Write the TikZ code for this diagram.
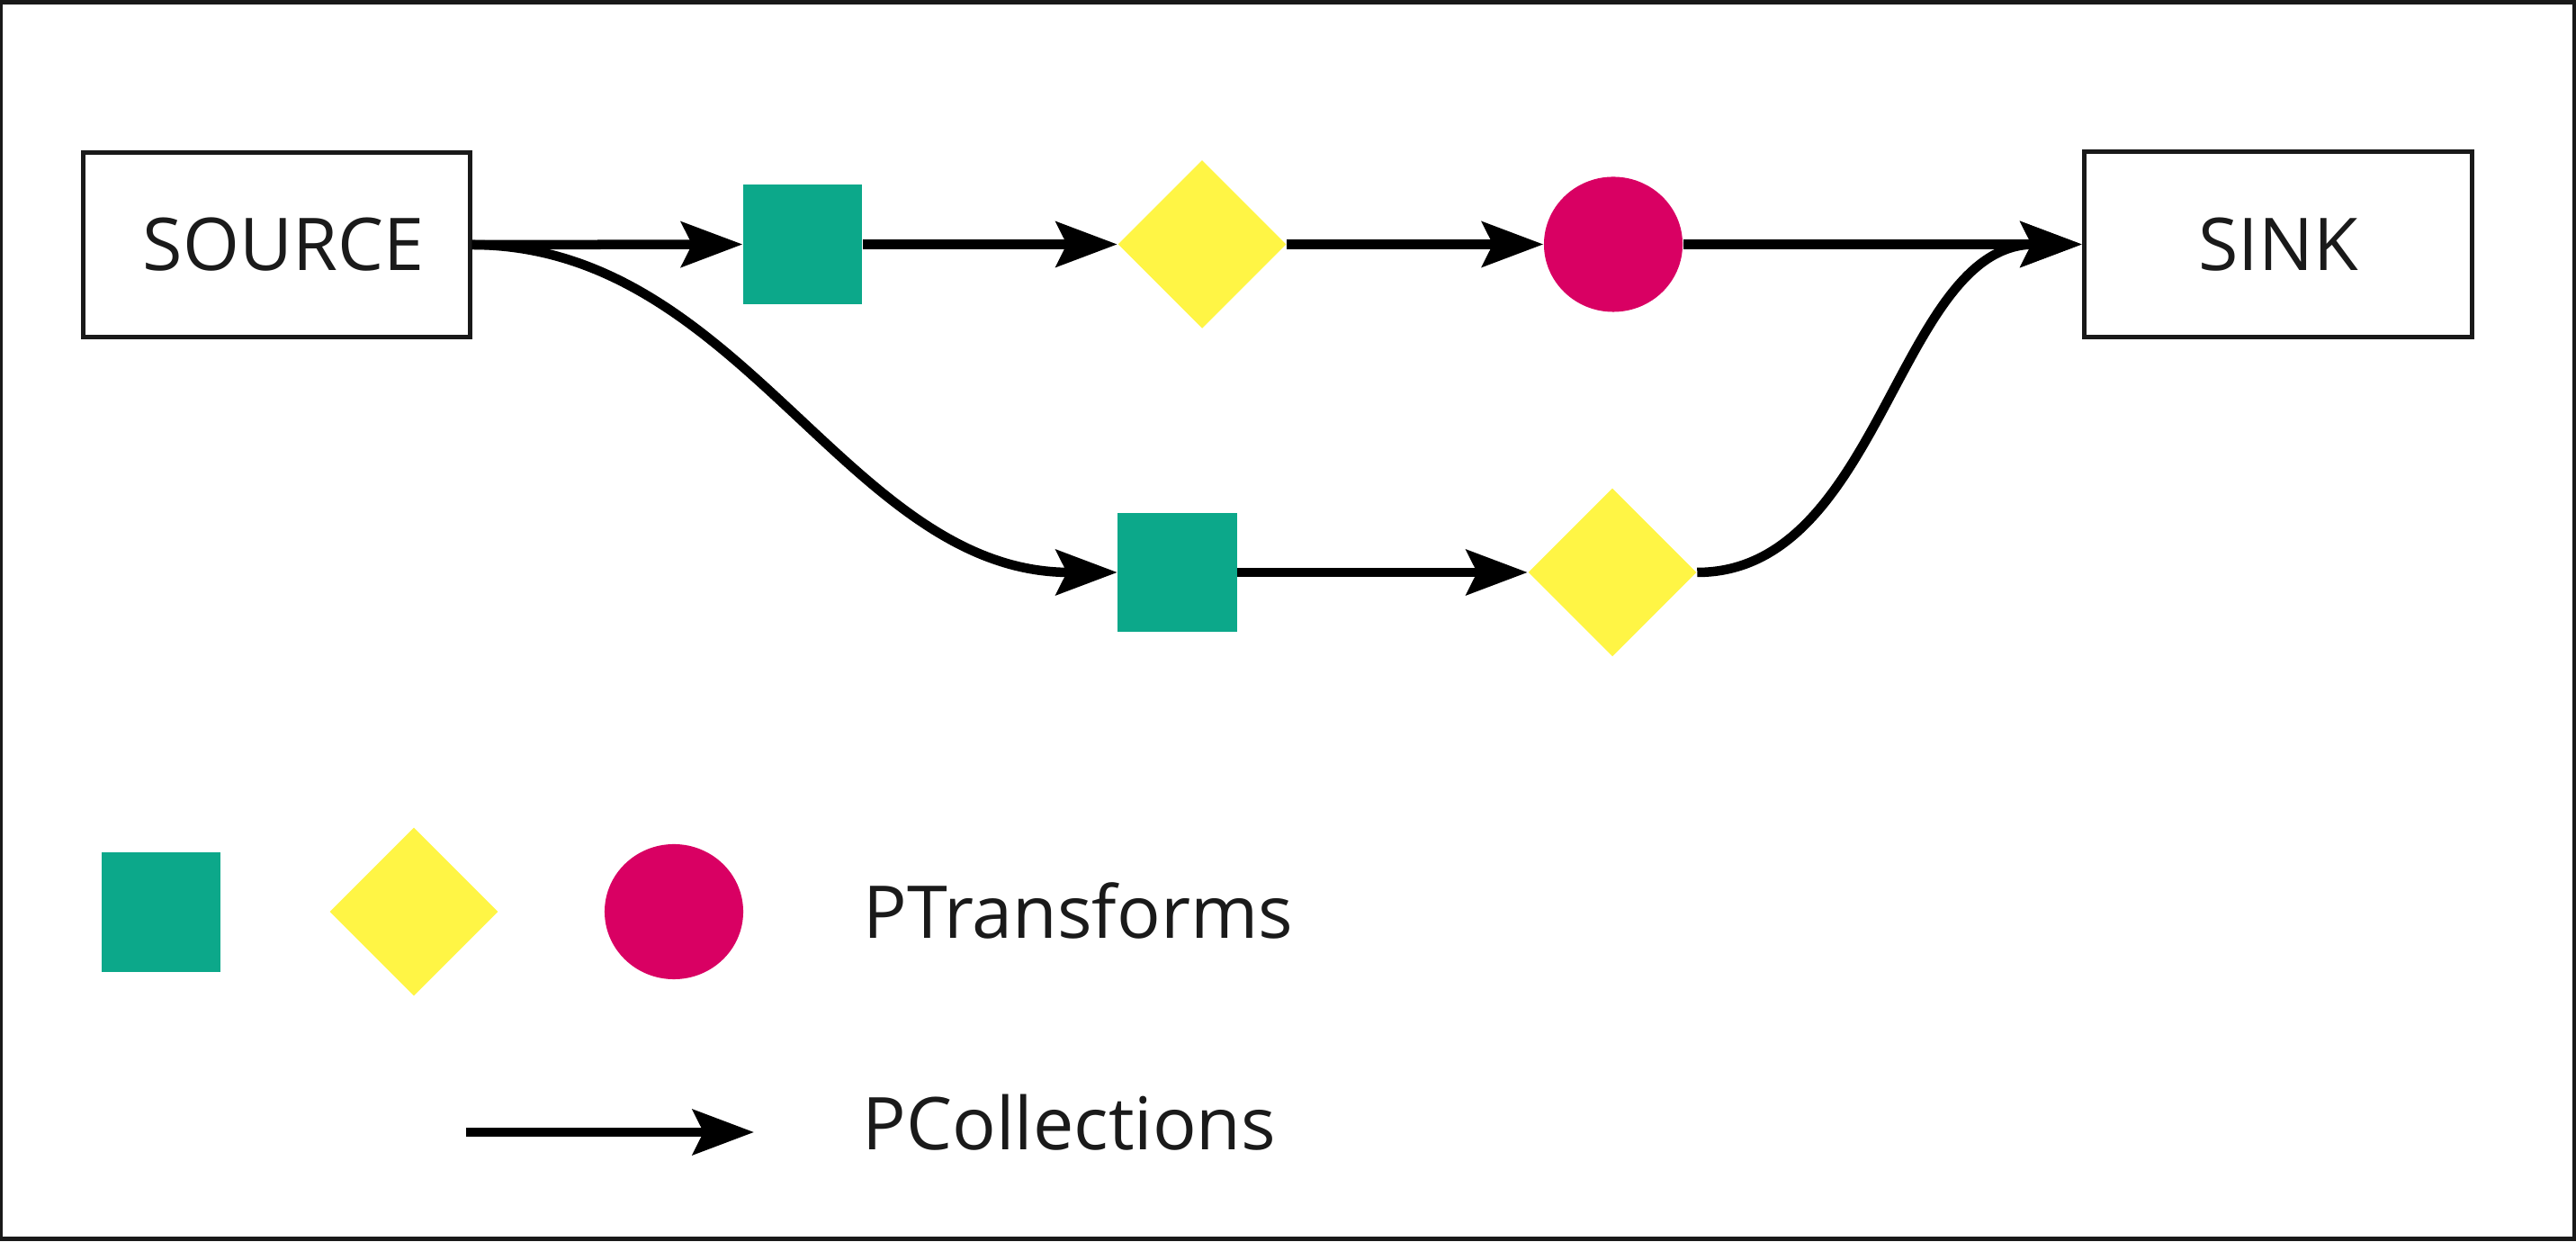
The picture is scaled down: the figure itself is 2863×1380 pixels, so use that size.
\documentclass[tikz,border=0pt]{standalone}
\usepackage{fontspec}
\setmainfont{Open Sans}
\usetikzlibrary{arrows.meta,shapes.geometric}
\definecolor{pgreen}{RGB}{12,168,138}
\definecolor{pyellow}{RGB}{255,245,69}
\definecolor{pmag}{RGB}{217,0,99}
\definecolor{txt}{RGB}{26,26,26}
\tikzset{
  box/.style={draw=black!90, line width=0.05cm, minimum width=#1, minimum height=2.05cm, inner sep=0pt, text=txt, font=\fontsize{23}{28}\selectfont},
  sq/.style={fill=pgreen, minimum size=1.32cm, inner sep=0pt},
  dia/.style={diamond, fill=pyellow, minimum width=1.87cm, minimum height=1.87cm, inner sep=0pt, aspect=1},
  circ/.style={ellipse, fill=pmag, minimum width=1.54cm, minimum height=1.5cm, inner sep=0pt},
  flow/.style={line width=0.105cm, -{Stealth[length=0.68cm,width=0.5cm,inset=0.12cm]}},
  label/.style={anchor=base west, inner sep=0pt, text=txt, font=\fontsize{23}{28}\selectfont}
}
\begin{document}
\begin{tikzpicture}[x=0.01cm,y=-0.01cm]
\useasboundingbox (0,0) rectangle (2863,1380);
\draw[line width=0.05cm, black!90] (0.5,2.5) rectangle (2861.5,1376.5);
% main nodes
\node[box=4.29cm] (src) at (307.5,272) {\hspace{0.15cm}SOURCE};
\node[box=4.31cm] (sink) at (2532,271.5) {SINK};
\node[sq] (g1) at (892,271.5) {};
\node[dia] (d1) at (1336,271.5) {};
\node[circ] (c1) at (1793,271.5) {};
\node[sq] (g2) at (1308.5,636) {};
\node[dia] (d2) at (1792,636) {};
% connectors
\draw[flow] (src.east) -- (g1.west);
\draw[flow] (g1.east) -- (d1.west);
\draw[flow] (d1.east) -- (c1.west);
\draw[flow] (c1.east) -- (sink.west);
\draw[flow] (src.east) .. controls +(300,0) and +(-300,0) .. (g2.west);
\draw[flow] (g2.east) -- (d2.west);
\draw[flow] (d2.east) .. controls +(205,0) and +(-205,0) .. (sink.west);
% legend
\node[sq] (lg) at (179,1013.5) {};
\node[dia] (ld) at (460,1013) {};
\node[circ] (lc) at (749,1013) {};
\node[label] (lt) at (959,1043) {PTransforms};
\coordinate (la) at (518,1258);
\coordinate (lb) at (838,1258);
\draw[flow] (la) -- (lb);
\node[label] (lp) at (958,1278) {PCollections};
\end{tikzpicture}
\end{document}
